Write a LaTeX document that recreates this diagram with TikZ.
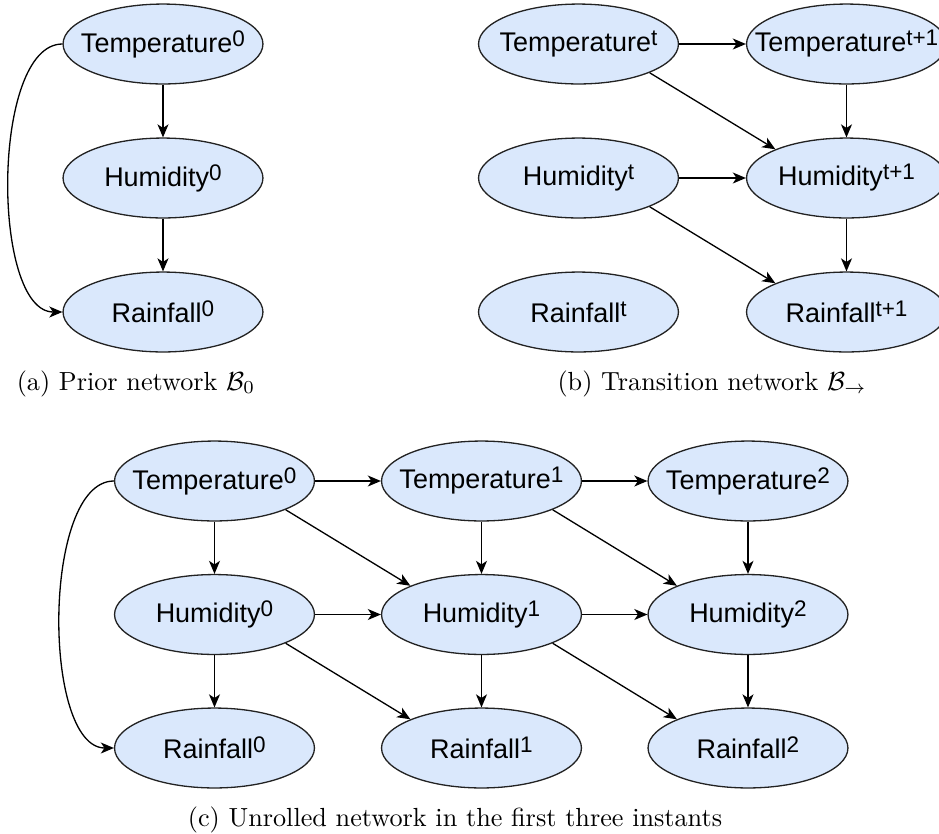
\documentclass[tikz,border=0pt]{standalone}
\usepackage{fontspec}
\newfontfamily\nodefont{Liberation Sans}
\usetikzlibrary{shapes.geometric,arrows.meta}
\definecolor{nodeblue}{HTML}{DAE8FC}
\definecolor{nodeedge}{HTML}{222222}
% variable name with a raised, smaller time index
\newcommand{\upidx}[1]{\raisebox{2.3pt}{\fontsize{8.6}{9}\selectfont #1}}
\newcommand{\varlabel}[2]{\makebox[0pt][c]{#1\upidx{#2}}}
\tikzset{
  rv/.style={ellipse, draw=nodeedge, line width=0.5pt, fill=nodeblue,
    minimum width=76.3pt, minimum height=30.5pt, inner sep=0pt,
    font=\nodefont\fontsize{10.3}{12}\selectfont},
  link/.style={-{Stealth[length=5pt,width=4.2pt,inset=1.4pt]}, line width=0.5pt},
  caption/.style={anchor=base, inner sep=0pt}
}
\begin{document}
\begin{tikzpicture}[x=0.3817pt,y=-0.3817pt]
\useasboundingbox (0,0) rectangle (939,834);

% (a) prior network
\node[rv] (aT) at (163,44)  {\varlabel{Temperature}{0}};
\node[rv] (aH) at (163,178) {\varlabel{Humidity}{0}};
\node[rv] (aR) at (163,312) {\varlabel{Rainfall}{0}};
\draw[link] (aT) -- (aH);
\draw[link] (aH) -- (aR);
\draw[link] (aT.west) .. controls (-9,44) and (-9,312) .. (aR.west);
\node[caption] (capa) at (136,390) {(a) Prior network $\mathcal{B}_0$};

% (b) transition network
\node[rv] (bT0) at (578.5,44)  {\varlabel{Temperature}{t}};
\node[rv] (bT1) at (846.5,44)  {\varlabel{Temperature}{t+1}};
\node[rv] (bH0) at (578.5,178) {\varlabel{Humidity}{t}};
\node[rv] (bH1) at (846.5,178) {\varlabel{Humidity}{t+1}};
\node[rv] (bR0) at (578.5,312) {\varlabel{Rainfall}{t}};
\node[rv] (bR1) at (846.5,312) {\varlabel{Rainfall}{t+1}};
\draw[link] (bT0) -- (bT1);
\draw[link] (bT0.-22) -- (bH1.158);
\draw[link] (bH0) -- (bH1);
\draw[link] (bH0.-22) -- (bR1.158);
\draw[link] (bT1) -- (bH1);
\draw[link] (bH1) -- (bR1);
\node[caption] (capb) at (712,390) {(b) Transition network $\mathcal{B}_\rightarrow$};

% (c) unrolled network
\node[rv] (cT0) at (214.5,481) {\varlabel{Temperature}{0}};
\node[rv] (cT1) at (481.5,481) {\varlabel{Temperature}{1}};
\node[rv] (cT2) at (748,481)   {\varlabel{Temperature}{2}};
\node[rv] (cH0) at (214.5,614.5) {\varlabel{Humidity}{0}};
\node[rv] (cH1) at (481.5,614.5) {\varlabel{Humidity}{1}};
\node[rv] (cH2) at (748,614.5)   {\varlabel{Humidity}{2}};
\node[rv] (cR0) at (214.5,748) {\varlabel{Rainfall}{0}};
\node[rv] (cR1) at (481.5,748) {\varlabel{Rainfall}{1}};
\node[rv] (cR2) at (748,748)   {\varlabel{Rainfall}{2}};
\draw[link] (cT0) -- (cT1);
\draw[link] (cT1) -- (cT2);
\draw[link] (cH0) -- (cH1);
\draw[link] (cH1) -- (cH2);
\draw[link] (cT0) -- (cH0);
\draw[link] (cT1) -- (cH1);
\draw[link] (cT2) -- (cH2);
\draw[link] (cH0) -- (cR0);
\draw[link] (cH1) -- (cR1);
\draw[link] (cH2) -- (cR2);
\draw[link] (cT0.-22) -- (cH1.158);
\draw[link] (cT1.-22) -- (cH2.158);
\draw[link] (cH0.-22) -- (cR1.158);
\draw[link] (cH1.-22) -- (cR2.158);
\draw[link] (cT0.west) .. controls (42,481) and (42,748) .. (cR0.west);
\node[caption] (capc) at (455,826) {(c) Unrolled network in the first three instants};
\end{tikzpicture}
\end{document}
